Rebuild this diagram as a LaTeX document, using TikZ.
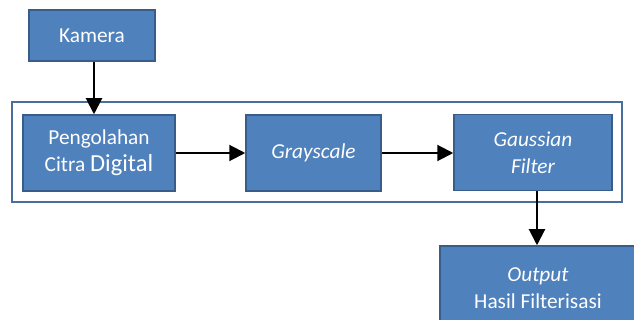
\documentclass[tikz,border=0pt]{standalone}
\usepackage{fontspec}
\setmainfont{Carlito}
\usetikzlibrary{arrows.meta,calc}
\definecolor{boxfill}{HTML}{4F81BD}
\definecolor{boxline}{HTML}{385D8A}
\definecolor{frameline}{HTML}{4A6F9C}
\begin{document}
\begin{tikzpicture}[x=1pt,y=-1pt,
  procbox/.style={draw=boxline,line width=1.5pt,fill=boxfill,text=white,inner sep=0pt,
    align=center,font=\fontsize{21.3}{27}\selectfont},
  flow/.style={line width=2pt,-{Triangle[length=16pt,width=16pt]}}]
\useasboundingbox (0,0) rectangle (634,320);
\begin{scope}
\clip (0,0) rectangle (634,320);
\node[draw=frameline,line width=1.8pt,minimum width=610pt,minimum height=100pt,inner sep=0pt] (frame) at (317,152) {};
\node[procbox,minimum width=126pt,minimum height=51pt] (kamera) at (92,35.5) {Kamera};
\node[procbox,minimum width=152pt,minimum height=76pt] (peng) at (99,153) {Pengolahan\\Citra {\fontsize{24.5}{27}\selectfont Digital}};
\node[procbox,minimum width=135pt,minimum height=76pt] (gray) at (313.5,153) {\itshape Grayscale};
\node[procbox,minimum width=158pt,minimum height=76pt] (gauss) at (533,152.5) {\itshape Gaussian\\\itshape Filter};
\node[procbox,minimum width=196pt,minimum height=84pt] (out) at (538,288) {\itshape Output\\Hasil Filterisasi};
\end{scope}
\draw[flow] (kamera.south -| 94,0) -- (peng.north -| 94,0);
\draw[flow] (peng.east) -- (gray.west);
\draw[flow] (gray.east) -- (gray.east -| gauss.west);
\draw[flow] (gauss.south -| 537,0) -- (out.north -| 537,0);
\end{tikzpicture}
\end{document}
